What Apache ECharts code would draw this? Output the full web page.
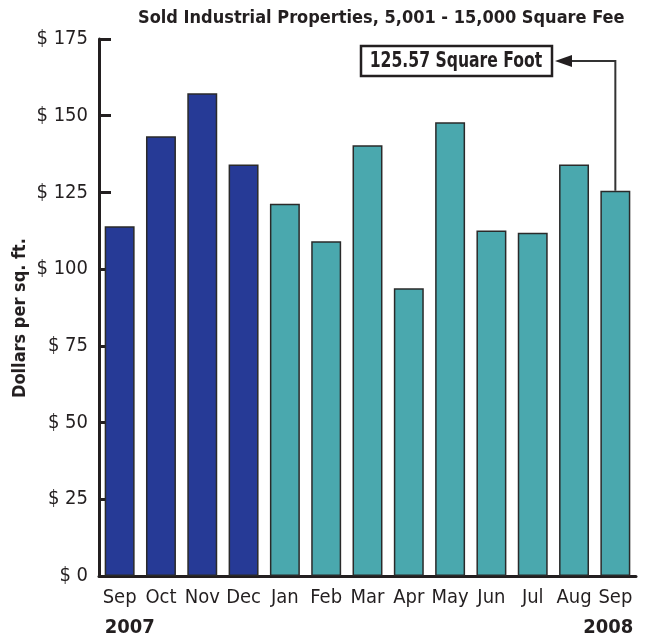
<!DOCTYPE html>
<html>
<head>
<meta charset="utf-8">
<script src="https://cdn.jsdelivr.net/npm/echarts@6/dist/echarts.min.js"></script>
<style>
  html, body { margin: 0; padding: 0; background: #fff; }
  #main { width: 645px; height: 641px; }
</style>
</head>
<body>
<div id="main"></div>
<script>
// monthly price per sq. ft., Sep 2007 - Sep 2008
var months = ['Sep', 'Oct', 'Nov', 'Dec', 'Jan', 'Feb', 'Mar', 'Apr', 'May', 'Jun', 'Jul', 'Aug', 'Sep'];
var dollars = [114.0, 143.3, 157.3, 134.1, 121.3, 109.1, 140.4, 93.8, 147.9, 112.6, 111.9, 134.1, 125.57];
var monthYear = ['2007', '2007', '2007', '2007', '2008', '2008', '2008', '2008', '2008', '2008', '2008', '2008', '2008'];
var yTicks = [0, 25, 50, 75, 100, 125, 150, 175];
var calloutText = '125.57 Square Foot';

var FONT = "'Liberation Sans Narrow', 'DejaVu Sans Condensed', 'Liberation Sans', sans-serif";
var INK = '#231f20';
var yearColor = { '2007': '#263a96', '2008': '#4aa8ae' };

var myChart = echarts.init(document.getElementById('main'));

var option = {
    animation: false,
    title: {
        text: 'Sold Industrial Properties, 5,001 - 15,000 Square Fee',
        left: 133,
        top: 4,
        textStyle: { fontFamily: FONT, fontSize: 18, fontWeight: 'bold', color: INK }
    },
    grid: { left: 99, right: 9, top: 39, bottom: 65 },
    xAxis: {
        type: 'category',
        data: months,
        axisLine: { lineStyle: { color: INK, width: 3 } },
        axisTick: { show: false },
        axisLabel: { color: INK, fontFamily: FONT, fontSize: 20, margin: 12, interval: 0 }
    },
    yAxis: {
        type: 'value',
        min: yTicks[0],
        max: yTicks[yTicks.length - 1],
        interval: 25,
        axisLine: { show: true, lineStyle: { color: INK, width: 3 } },
        axisTick: { show: true, inside: true, length: 12, lineStyle: { color: INK, width: 3 } },
        splitLine: { show: false },
        axisLabel: {
            color: INK, fontFamily: FONT, fontSize: 20, margin: 11,
            formatter: function (v) { return '$ ' + v; }
        }
    },
    series: [{
        type: 'bar',
        barCategoryGap: '27.5%',
        data: dollars.map(function (v, i) {
            return { value: v, itemStyle: { color: yearColor[monthYear[i]] } };
        }),
        itemStyle: { borderColor: '#2a2a2a', borderWidth: 1.5 }
    }]
};

myChart.setOption(option);

// callout + year labels positioned from the axes
var last = dollars.length - 1;
var lastX = myChart.convertToPixel({ xAxisIndex: 0 }, last);
var lastY = myChart.convertToPixel({ yAxisIndex: 0 }, dollars[last]);
var firstX = myChart.convertToPixel({ xAxisIndex: 0 }, 0);
var lineY = 61;
var tipX = 555;

myChart.setOption({
    graphic: [
        {
            type: 'rect',
            shape: { x: 361, y: 46, width: 191, height: 30 },
            style: { fill: '#fff', stroke: INK, lineWidth: 2.5 }
        },
        {
            type: 'text',
            x: 456, y: 61,
            scaleX: 0.79,
            style: {
                text: calloutText, fontFamily: FONT, fontSize: 22, fontWeight: 'bold',
                fill: INK, align: 'center', verticalAlign: 'middle'
            }
        },
        {
            type: 'polyline',
            shape: { points: [[lastX, lastY], [lastX, lineY], [tipX + 14, lineY]] },
            style: { stroke: '#333', lineWidth: 2, fill: null }
        },
        {
            type: 'polygon',
            shape: { points: [[tipX, lineY], [tipX + 17, lineY - 6], [tipX + 17, lineY + 6]] },
            style: { fill: INK }
        },
        {
            type: 'text',
            x: firstX - 15, y: 628,
            style: {
                text: monthYear[0], fontFamily: FONT, fontSize: 20, fontWeight: 'bold',
                fill: INK, align: 'left', verticalAlign: 'middle'
            }
        },
        {
            type: 'text',
            x: lastX + 18, y: 628,
            style: {
                text: monthYear[last], fontFamily: FONT, fontSize: 20, fontWeight: 'bold',
                fill: INK, align: 'right', verticalAlign: 'middle'
            }
        },
        {
            type: 'text',
            x: 20, y: 318,
            rotation: Math.PI / 2,
            style: {
                text: 'Dollars per sq. ft.', fontFamily: FONT, fontSize: 18, fontWeight: 'bold',
                fill: INK, align: 'center', verticalAlign: 'middle'
            }
        }
    ]
});
</script>
</body>
</html>
